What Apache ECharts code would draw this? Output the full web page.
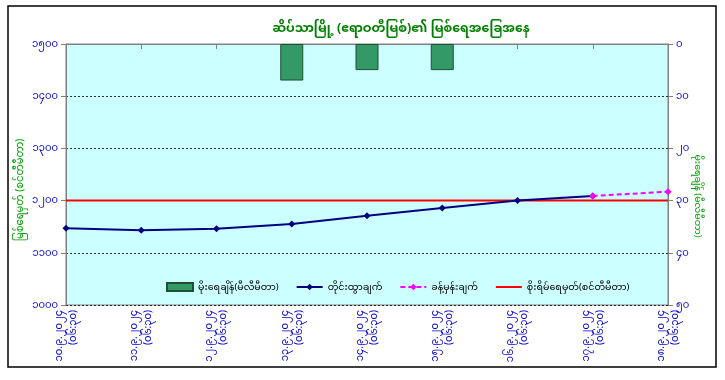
<!DOCTYPE html>
<html><head><meta charset="utf-8">
<script src="https://cdn.jsdelivr.net/npm/echarts@6/dist/echarts.min.js"></script>
<style>html,body{margin:0;padding:0;background:#fff}#c{width:725px;height:380px}</style>
</head><body><div id="c"></div>
<script>
const titleText = 'ဆိပ်သာမြို့ (ဧရာဝတီမြစ်)၏ မြစ်ရေအခြေအနေ';
const categories = [
  '၁၀.၉.၂၀၂၄\n(၀၆:၃၀)','၁၁.၉.၂၀၂၄\n(၀၆:၃၀)','၁၂.၉.၂၀၂၄\n(၀၆:၃၀)',
  '၁၃.၉.၂၀၂၄\n(၀၆:၃၀)','၁၄.၉.၂၀၂၄\n(၀၆:၃၀)','၁၅.၉.၂၀၂၄\n(၀၆:၃၀)',
  '၁၆.၉.၂၀၂၄\n(၀၆:၃၀)','၁၇.၉.၂၀၂၄\n(၀၆:၃၀)','၁၈.၉.၂၀၂၄\n(၀၆:၃၀)'
];
const seriesNames = ['မိုးရေချိန်(မီလီမီတာ)','တိုင်းထွာချက်','ခန့်မှန်းချက်','စိုးရိမ်ရေမှတ်(စင်တီမီတာ)'];
const rainfall = [null,null,null,7,5,5,null,null,null];
const observed = [1147,1143,1146,1155,1171,1186,1200,1209,null];
const forecast = [null,null,null,null,null,null,null,1209,1217];
const danger = [1200,1200,1200,1200,1200,1200,1200,1200,1200];
const leftName = 'မြစ်ရေမှတ် (စင်တီမီတာ)';
const rightName = 'မိုးရေချိန် (မီလီမီတာ)';

const myDigits = s => String(s).replace(/[0-9]/g, d => String.fromCharCode(0x1040 + (+d)));
const FONT = "'Noto Sans', 'Noto Sans Myanmar', 'Padauk', 'Myanmar Text', sans-serif";
const chart = echarts.init(document.getElementById('c'));
chart.setOption({
  animation: false,
  textStyle: { fontFamily: FONT },
  title: { text: titleText, left: 396, textAlign: 'center', top: 17,
    textStyle: { color: '#008000', fontSize: 12.5, fontWeight: 'bold', fontFamily: FONT } },
  graphic: [
    { type: 'rect', shape: { x: 8, y: 6, width: 708, height: 361 },
      style: { fill: 'none', stroke: '#000', lineWidth: 1.5 }, z: -1 },
    { type: 'text', x: 20, y: 190, rotation: Math.PI / 2,
      style: { text: leftName, align: 'center', verticalAlign: 'middle', fill: '#00A000',
        font: "10px " + FONT } },
    { type: 'text', x: 698, y: 196, rotation: -Math.PI / 2,
      style: { text: rightName, align: 'center', verticalAlign: 'middle', fill: '#00A000',
        font: "9.5px " + FONT } }
  ],
  grid: { left: 66, right: 57, top: 44, bottom: 75, show: true,
    backgroundColor: '#CCFFFF', borderColor: '#808080', borderWidth: 1 },
  legend: { top: 277, left: 161, itemGap: 17, itemWidth: 26, itemHeight: 8,
    textStyle: { color: '#000', fontSize: 9.5, fontFamily: FONT },
    data: [
      { name: seriesNames[0], icon: 'rect' },
      { name: seriesNames[1] }, { name: seriesNames[2] },
      { name: seriesNames[3], itemStyle: { opacity: 0 } }
    ] },
  xAxis: { type: 'category', data: categories, boundaryGap: false,
    axisLine: { lineStyle: { color: '#808080' } },
    axisTick: { show: true, alignWithLabel: true, lineStyle: { color: '#808080' } },
    axisLabel: { rotate: 90, color: '#0000CC', fontSize: 10, interval: 0, margin: 5, lineHeight: 14 } },
  yAxis: [
    { type: 'value', min: 1000, max: 1500, interval: 100, position: 'left',
      axisLine: { show: true, lineStyle: { color: '#808080' } },
      axisTick: { show: true, lineStyle: { color: '#808080' } },
      axisLabel: { color: '#0000CC', fontSize: 10, margin: 8, formatter: v => myDigits(v) },
      splitLine: { show: true, lineStyle: { color: '#000', type: [2, 2], width: 0.8 } } },
    { type: 'value', min: 0, max: 50, interval: 10, position: 'right', inverse: true,
      axisLine: { show: true, lineStyle: { color: '#808080' } },
      axisTick: { show: true, lineStyle: { color: '#808080' } },
      axisLabel: { color: '#0000CC', fontSize: 10, margin: 8, formatter: v => myDigits(v) },
      splitLine: { show: false } }
  ],
  series: [
    { name: seriesNames[0], type: 'bar', yAxisIndex: 1, data: rainfall, barWidth: 23,
      itemStyle: { color: '#339966', borderColor: '#1f4f33', borderWidth: 1 } },
    { name: seriesNames[3], type: 'line', yAxisIndex: 0, data: danger, symbol: 'none',
      lineStyle: { color: '#FF0000', width: 2 }, itemStyle: { color: '#FF0000' }, z: 3 },
    { name: seriesNames[1], type: 'line', yAxisIndex: 0, data: observed, symbol: 'diamond',
      symbolSize: 7, lineStyle: { color: '#000080', width: 2 }, itemStyle: { color: '#000080' }, z: 4 },
    { name: seriesNames[2], type: 'line', yAxisIndex: 0, data: forecast, symbol: 'diamond',
      symbolSize: 7, lineStyle: { color: '#FF00FF', width: 2, type: [5, 3] },
      itemStyle: { color: '#FF00FF' }, z: 5 }
  ]
});
</script></body></html>
